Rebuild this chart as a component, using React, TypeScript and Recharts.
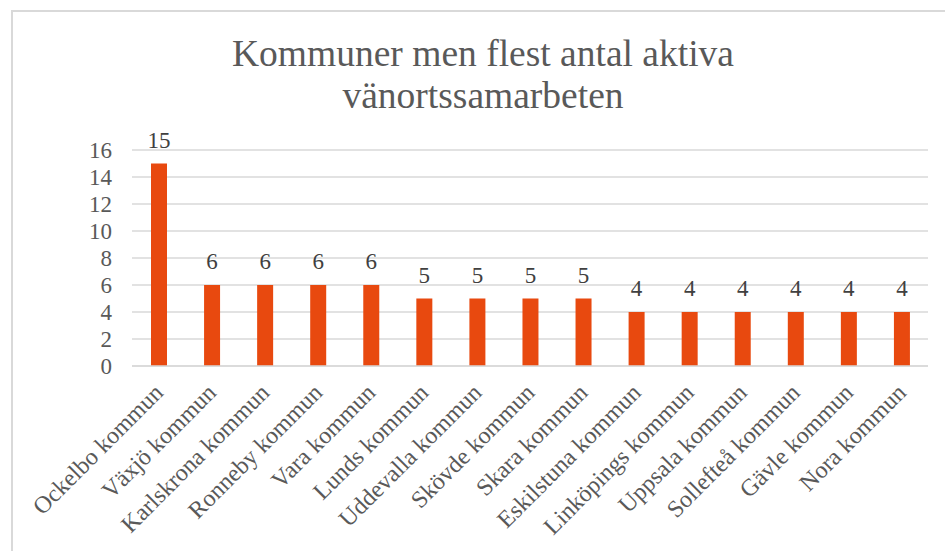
import { Bar, BarChart, CartesianGrid, LabelList, XAxis, YAxis } from "recharts";

const kommuner = [
  "Ockelbo kommun",
  "Växjö kommun",
  "Karlskrona kommun",
  "Ronneby kommun",
  "Vara kommun",
  "Lunds kommun",
  "Uddevalla kommun",
  "Skövde kommun",
  "Skara kommun",
  "Eskilstuna kommun",
  "Linköpings kommun",
  "Uppsala kommun",
  "Sollefteå kommun",
  "Gävle kommun",
  "Nora kommun",
];
const antal = [15, 6, 6, 6, 6, 5, 5, 5, 5, 4, 4, 4, 4, 4, 4];
const yTicks = [0, 2, 4, 6, 8, 10, 12, 14, 16];

const titel = ["Kommuner men flest antal aktiva", "vänortssamarbeten"];

const data = kommuner.map((namn, i) => ({ namn, antal: antal[i] }));

const FONT = '"Liberation Serif", "Times New Roman", serif';
const GREY = "#595959";

function CatTick(props: any) {
  const { x, y, payload } = props;
  const ax = x + 6;
  const ay = y + 26;
  return (
    <text
      x={ax}
      y={ay}
      textAnchor="end"
      fill={GREY}
      fontSize={24}
      fontFamily={FONT}
      transform={`rotate(-45, ${ax}, ${ay})`}
    >
      {payload.value}
    </text>
  );
}

function ValTick(props: any) {
  const { x, y, payload } = props;
  return (
    <text x={x} y={y} dy="0.35em" textAnchor="end" fill={GREY} fontSize={23} fontFamily={FONT}>
      {payload.value}
    </text>
  );
}

function BarLabel(props: any) {
  const { x, y, width, value } = props;
  return (
    <text x={x + width / 2} y={y - 16} textAnchor="middle" fill="#404040" fontSize={23} fontFamily={FONT}>
      {value}
    </text>
  );
}

export default function App() {
  return (
    <div style={{ position: "absolute", left: 0, top: 0, width: 945, height: 551, background: "#fff", overflow: "hidden" }}>
      <div
        style={{
          position: "absolute",
          left: 11,
          top: 10,
          width: 960,
          height: 560,
          border: "2px solid #d9d9d9",
          boxSizing: "border-box",
        }}
      />
      <div
        style={{
          position: "absolute",
          left: 0,
          top: 33,
          width: 966,
          textAlign: "center",
          fontFamily: FONT,
          fontSize: 37.5,
          lineHeight: "42px",
          color: GREY,
        }}
      >
        {titel.map((t) => (
          <div key={t}>{t}</div>
        ))}
      </div>
      <div style={{ position: "absolute", left: 0, top: 0 }}>
        <BarChart width={945} height={551} data={data} margin={{ top: 150, right: 17, left: 0, bottom: 0 }}>
          <CartesianGrid vertical={false} stroke="#d9d9d9" strokeWidth={1.5} />
          <XAxis
            dataKey="namn"
            interval={0}
            height={185}
            tickLine={false}
            tickSize={0}
            axisLine={{ stroke: "#d9d9d9", strokeWidth: 1.5 }}
            tick={<CatTick />}
          />
          <YAxis
            width={132}
            domain={[0, 16]}
            ticks={yTicks}
            interval={0}
            axisLine={false}
            tickLine={false}
            tickSize={0}
            tickMargin={20}
            tick={<ValTick />}
          />
          <Bar dataKey="antal" fill="#E8490F" barSize={16} isAnimationActive={false}>
            <LabelList dataKey="antal" content={<BarLabel />} />
          </Bar>
        </BarChart>
      </div>
    </div>
  );
}
